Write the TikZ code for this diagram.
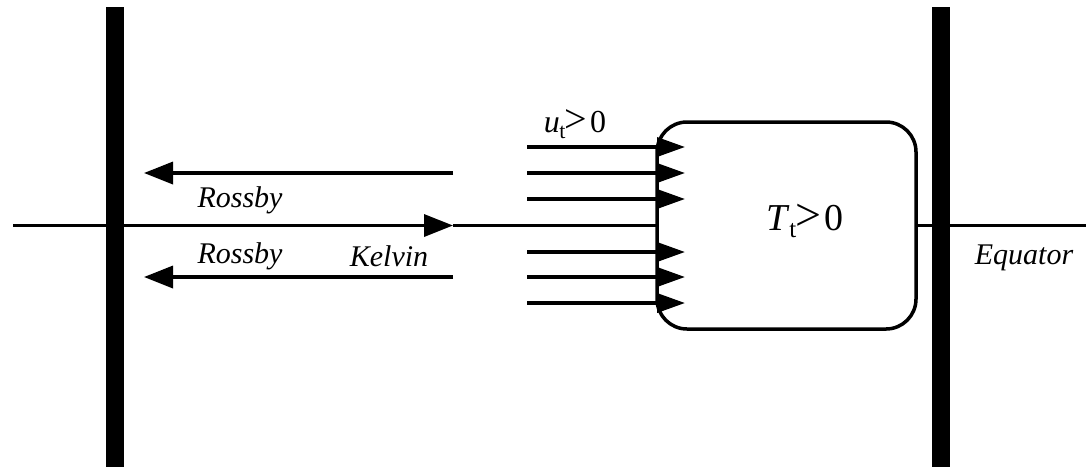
\documentclass[tikz,border=0pt]{standalone}
\usepackage{fontspec}
\setmainfont{Liberation Serif}
\usetikzlibrary{arrows.meta}
\newcommand{\bigGreater}[1]{{\fontsize{#1}{#1}\selectfont\upshape >}}
\begin{document}
\begin{tikzpicture}
[x=1pt,y=-1pt,
  wallDecorate/.style={line width=17.5pt},
  lineDecorate/.style={-,line width=3.5pt},
  windDecorate/.style={line width=3.5pt,-{Triangle[length=28pt,width=19pt]}},
  waveDecorate/.style={line width=3.5pt,-{Triangle[length=29pt,width=22pt]}},
  boxDecorate/.style={shape=rectangle,draw,line width=3.5pt,rounded corners=30pt,
    minimum width=259pt,minimum height=207pt,inner sep=0pt,outer sep=0pt},
  labelDecorate/.style={font=\fontsize{30}{32}\selectfont\itshape,inner sep=0pt}]
\useasboundingbox (0,0) rectangle (1086,467);
%% walls, equator and waves
\foreach \nodename/\x/\y in {
  westTop/115/7, westBottom/115/467,
  eastTop/941/7, eastBottom/941/467,
  eqWest/13/225.5, eqEast/1086/225.5, kelvinTip/453/225.5,
  rossbyStart1/453/173, rossbyEnd1/144/173,
  rossbyStart2/453/277, rossbyEnd2/144/277}
{
  \coordinate (\nodename) at (\x,\y);
}
%% wind forcing
\foreach \i/\y in {1/147, 2/173, 3/199, 4/252, 5/277, 6/303}
{
  \coordinate (windStart\i) at (527,\y);
  \coordinate (windEnd\i) at (685,\y);
}
%% warm region and labels
\node (warmPool) at (786.5,225.5) [boxDecorate] {};
\node (tempLabel) at (805,221) [labelDecorate,font=\fontsize{38}{40}\selectfont]
  {\textit{T}\kern-1pt\raisebox{-0.4ex}{\fontsize{25}{25}\selectfont t}\kern-1pt\bigGreater{46}\kern3pt0};
\node (windLabel) at (575,124) [labelDecorate,font=\fontsize{32}{34}\selectfont]
  {\textit{u}\kern-0.5pt\raisebox{-0.4ex}{\fontsize{22}{22}\selectfont t}\kern-1pt\bigGreater{40}\kern3pt0};
\node (rossbyNorth) at (240,200) [labelDecorate] {Rossby};
\node (rossbySouth) at (240,256) [labelDecorate] {Rossby};
\node (kelvinLabel) at (389,256) [labelDecorate] {Kelvin};
\node (equatorLabel) at (1024,258) [labelDecorate] {Equator};
%% lines
\draw[wallDecorate] (westTop) -- (westBottom);
\draw[wallDecorate] (eastTop) -- (eastBottom);
\draw[waveDecorate] (eqWest) -- (kelvinTip);
\draw[lineDecorate] (kelvinTip) -- (warmPool.west);
\draw[lineDecorate] (warmPool.east) -- (eqEast);
\foreach \i in {1,2}
{
  \draw[waveDecorate] (rossbyStart\i) -- (rossbyEnd\i);
}
\foreach \i in {1,...,6}
{
  \draw[windDecorate] (windStart\i) -- (windEnd\i);
}
\end{tikzpicture}
\end{document}
